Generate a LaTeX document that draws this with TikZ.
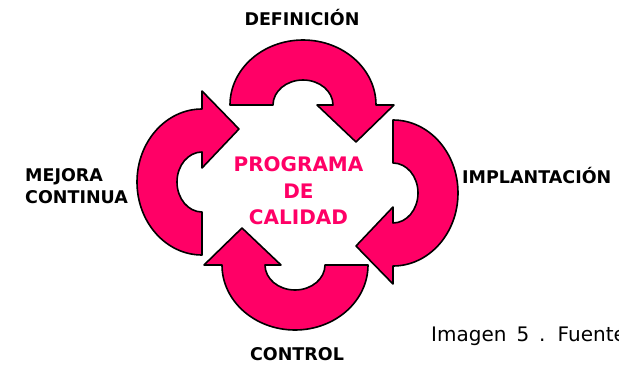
\documentclass[tikz,border=0pt]{standalone}
\usepackage{fontspec}
\setmainfont{DejaVu Sans}
\usepackage{xcolor}
\definecolor{rosa}{RGB}{255,0,102}
\usepackage{tikz}
\tikzstyle{flecha} = [draw=black, line width=1.6pt, fill=rosa, line join=round]
\tikzstyle{etapa} = [font=\fontsize{17.5}{22}\selectfont\bfseries, text=black, inner sep=0pt]
% one curved arrow: #1 = centre, #2 = rotation
\newcommand{\flecha}[2]{%
  \draw[flecha, shift={#1}, rotate=#2]
    (-73,0) arc[start angle=180, end angle=0, x radius=73, y radius=65]
    -- (91,0) -- (53,-37) -- (14,0) -- (30,0)
    arc[start angle=0, end angle=180, x radius=30, y radius=25] -- cycle;}

\begin{document}
\begin{tikzpicture}[x=1pt, y=1pt]
  \useasboundingbox (0,0) rectangle (619,368);
  \clip (0,0) rectangle (619,368);

  \flecha{(303,263)}{0}
  \flecha{(393,175)}{-90}
  \flecha{(295,103)}{180}
  \flecha{(202,186)}{90}

  \node[etapa, anchor=base] (def) at (302,343) {DEFINICIÓN};
  \node[etapa, anchor=base west] (imp) at (462,185) {IMPLANTACIÓN};
  \node[etapa, anchor=base] (con) at (297,8) {CONTROL};
  \node[etapa, anchor=west, align=left] (mej) at (25,182) {MEJORA\\CONTINUA};

  \node[font=\fontsize{20}{26.5}\selectfont\bfseries, text=rosa, align=center]
    (prog) at (298.5,177) {PROGRAMA\\DE\\CALIDAD};

  \node[font=\fontsize{20}{24}\selectfont, anchor=base west, inner sep=0pt]
    (pie) at (431,27) {\spaceskip=0.5em Imagen 5 . Fuente};
\end{tikzpicture}
\end{document}
